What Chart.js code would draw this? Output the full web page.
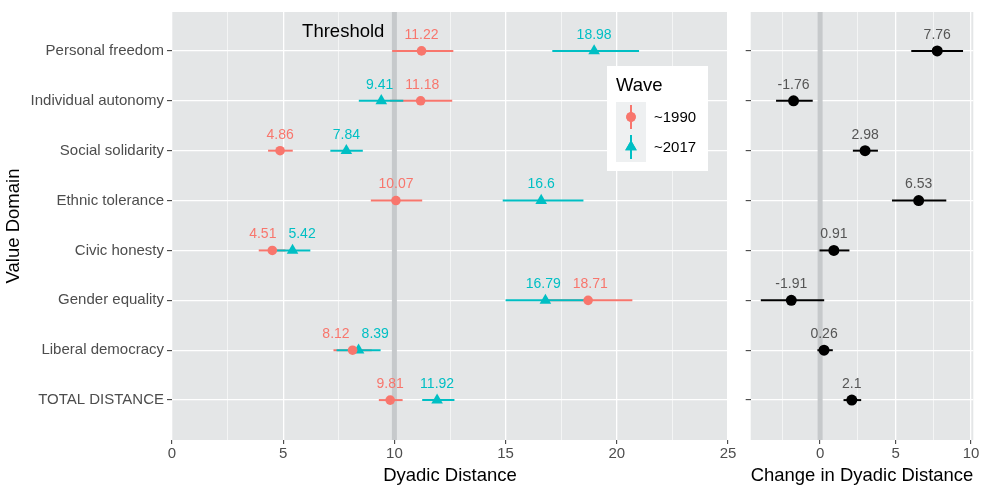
<!DOCTYPE html>
<html>
<head>
<meta charset="utf-8">
<script src="https://cdn.jsdelivr.net/npm/chart.js@4.4.1/dist/chart.umd.min.js"></script>
<style>
    html, body { margin: 0; padding: 0; background: #fff; }
    #wrap { position: relative; width: 983px; height: 485px; overflow: hidden; }
    #wrap canvas { position: absolute; top: 0; }
    #leftChart { left: 0; }
    #rightChart { left: 730px; }
</style>
</head>
<body>
<div id="wrap">
    <canvas id="leftChart" width="745" height="485"></canvas>
    <canvas id="rightChart" width="253" height="485"></canvas>
</div>
<script>
const CATEGORIES = ['Personal freedom', 'Individual autonomy', 'Social solidarity', 'Ethnic tolerance',
    'Civic honesty', 'Gender equality', 'Liberal democracy', 'TOTAL DISTANCE'];

const WAVE_1990    = [11.22, 11.18, 4.86, 10.07, 4.51, 18.71, 8.12, 9.81];
const WAVE_1990_LO = [9.9, 9.8, 4.32, 8.94, 3.9, 16.7, 7.26, 9.3];
const WAVE_1990_HI = [12.65, 12.6, 5.43, 11.25, 5.1, 20.7, 8.98, 10.37];

const WAVE_2017    = [18.98, 9.41, 7.84, 16.6, 5.42, 16.79, 8.39, 11.92];
const WAVE_2017_LO = [17.1, 8.4, 7.12, 14.87, 4.62, 15.0, 7.4, 11.25];
const WAVE_2017_HI = [21.0, 10.4, 8.58, 18.5, 6.22, 18.58, 9.38, 12.7];

const CHANGE    = [7.76, -1.76, 2.98, 6.53, 0.91, -1.91, 0.26, 2.1];
const CHANGE_LO = [6.04, -2.92, 2.17, 4.76, -0.04, -3.93, -0.18, 1.55];
const CHANGE_HI = [9.47, -0.49, 3.83, 8.36, 1.94, 0.27, 0.84, 2.72];

const LEFT_TICKS = [0, 2.5, 5, 7.5, 10, 12.5, 15, 17.5, 20, 22.5, 25];
const RIGHT_TICKS = [-2.5, 0, 2.5, 5, 7.5, 10];
const THRESHOLD_LEFT = 10;
const THRESHOLD_RIGHT = 0;

const RED = '#F8766D';
const TEAL = '#00BFC4';
const PANEL_BG = '#e4e6e7';
const FONT = "'Liberation Sans', Arial, sans-serif";

Chart.defaults.font.family = FONT;

const fmt = (v) => String(v);
const isMajor = (v) => Math.abs(v % 5) < 1e-9;

function xAxis(min, max, ticks, title) {
    return {
        type: 'linear',
        min, max,
        afterBuildTicks: (ax) => { ax.ticks = ticks.map(v => ({ value: v })); },
        afterFit: (ax) => { ax.height = 45; },
        border: { display: false },
        grid: {
            color: '#ffffff',
            lineWidth: (c) => isMajor(c.tick.value) ? 1.3 : 0.6,
            tickColor: (c) => isMajor(c.tick.value) ? '#333333' : 'rgba(0,0,0,0)',
            tickLength: 4,
            tickWidth: 1
        },
        ticks: {
            padding: 1,
            maxRotation: 0,
            color: '#4d4d4d',
            font: { size: 15 },
            callback: (v) => isMajor(v) ? fmt(v) : ''
        },
        title: {
            display: true,
            text: title,
            color: '#000',
            font: { size: 18.5, lineHeight: 1 },
            padding: { top: 0, bottom: 0 }
        }
    };
}

function yAxis(width, showLabels) {
    return {
        type: 'linear',
        min: -0.78,
        max: 7.8,
        reverse: true,
        afterBuildTicks: (ax) => { ax.ticks = CATEGORIES.map((c, i) => ({ value: i })); },
        afterFit: (ax) => { ax.width = width; },
        border: { display: false },
        grid: {
            color: '#ffffff',
            lineWidth: 1.3,
            tickColor: '#333333',
            tickLength: 5,
            tickWidth: 1
        },
        ticks: {
            padding: 3,
            color: '#4d4d4d',
            font: { size: 15 },
            callback: (v) => showLabels ? CATEGORIES[v] : ''
        },
        title: showLabels ? {
            display: true,
            text: 'Value Domain',
            color: '#000',
            font: { size: 18.5, lineHeight: 1 },
            padding: { top: 4.5, bottom: 0 }
        } : { display: false }
    };
}

// pushes two labels apart when they would overlap, like a simple repel
function labelCenters(ctx, xa, xb, ta, tb) {
    const wa = ctx.measureText(ta).width, wb = ctx.measureText(tb).width;
    const need = wa / 2 + wb / 2 + 12;
    if (Math.abs(xb - xa) >= need) return [xa, xb];
    const mid = (xa + xb) / 2;
    const dir = xa <= xb ? 1 : -1;
    return [mid - dir * need / 2, mid + dir * need / 2];
}

function panelPlugin(cfg) {
    return {
        id: 'panel',
        beforeDraw(chart) {
            const { ctx, chartArea: a } = chart;
            ctx.save();
            ctx.fillStyle = PANEL_BG;
            ctx.fillRect(a.left, a.top, a.right - a.left, a.bottom - a.top);
            ctx.restore();
        },
        beforeDatasetsDraw(chart) {
            const { ctx, chartArea: a } = chart;
            const xs = chart.scales.x, ys = chart.scales.y;
            ctx.save();
            // threshold line
            const tx = xs.getPixelForValue(cfg.threshold);
            ctx.strokeStyle = '#c6c9cb';
            ctx.lineWidth = 5;
            ctx.beginPath();
            ctx.moveTo(tx, a.top);
            ctx.lineTo(tx, a.bottom);
            ctx.stroke();
            // error bars
            ctx.lineWidth = 2;
            cfg.bars.forEach(b => {
                ctx.strokeStyle = b.color;
                b.lo.forEach((lo, i) => {
                    const y = ys.getPixelForValue(i);
                    ctx.beginPath();
                    ctx.moveTo(xs.getPixelForValue(lo), y);
                    ctx.lineTo(xs.getPixelForValue(b.hi[i]), y);
                    ctx.stroke();
                });
            });
            ctx.restore();
        },
        afterDatasetsDraw(chart) {
            const { ctx } = chart;
            const xs = chart.scales.x, ys = chart.scales.y;
            ctx.save();
            ctx.font = '14px ' + FONT;
            ctx.textBaseline = 'middle';
            ctx.textAlign = 'center';
            const [la, lb] = cfg.labels;
            CATEGORIES.forEach((c, i) => {
                const y = ys.getPixelForValue(i) - 16;
                const ta = fmt(la.values[i]);
                const xa = xs.getPixelForValue(la.values[i]);
                if (!lb) {
                    ctx.fillStyle = la.color;
                    ctx.fillText(ta, xa, y);
                    return;
                }
                const tb = fmt(lb.values[i]);
                const xb = xs.getPixelForValue(lb.values[i]);
                const [ca, cb] = labelCenters(ctx, xa, xb, ta, tb);
                ctx.fillStyle = la.color;
                ctx.fillText(ta, ca, y);
                ctx.fillStyle = lb.color;
                ctx.fillText(tb, cb, y);
            });
            if (cfg.afterDraw) cfg.afterDraw(chart);
            ctx.restore();
        }
    };
}

function drawLegend(chart) {
    const { ctx } = chart;
    const xs = chart.scales.x, ys = chart.scales.y;
    // threshold label
    ctx.fillStyle = '#000';
    ctx.font = '18.5px ' + FONT;
    ctx.textAlign = 'center';
    ctx.textBaseline = 'middle';
    ctx.fillText('Threshold', xs.getPixelForValue(7.7), ys.getPixelForValue(-0.39));

    // legend box
    ctx.fillStyle = '#ffffff';
    ctx.fillRect(607, 66, 101, 105);
    ctx.fillStyle = '#000';
    ctx.font = '18.5px ' + FONT;
    ctx.textAlign = 'left';
    ctx.fillText('Wave', 616, 86);
    const keys = [
        { label: '~1990', color: RED, style: 'circle', r: 4.8 },
        { label: '~2017', color: TEAL, style: 'triangle', r: 6.7 }
    ];
    keys.forEach((k, i) => {
        const top = 102 + i * 30;
        ctx.fillStyle = '#eef0f1';
        ctx.fillRect(616, top, 30, 30);
        const cx = 631, cy = top + 15;
        ctx.strokeStyle = k.color;
        ctx.lineWidth = 2;
        ctx.beginPath();
        ctx.moveTo(cx, top + 3);
        ctx.lineTo(cx, top + 27);
        ctx.stroke();
        ctx.fillStyle = k.color;
        Chart.helpers.drawPoint(ctx, { pointStyle: k.style, radius: k.r, borderWidth: 0, rotation: 0 }, cx, cy);
        ctx.fill();
        ctx.fillStyle = '#000';
        ctx.font = '15px ' + FONT;
        ctx.fillText(k.label, 654, cy + 1);
    });
}

const pts = (arr) => arr.map((v, i) => ({ x: v, y: i }));

new Chart(document.getElementById('leftChart'), {
    type: 'scatter',
    data: {
        datasets: [
            { label: '~1990', data: pts(WAVE_1990), pointStyle: 'circle', pointRadius: 4.8,
              backgroundColor: RED, borderColor: RED, borderWidth: 0 },
            { label: '~2017', data: pts(WAVE_2017), pointStyle: 'triangle', pointRadius: 6.7,
              backgroundColor: TEAL, borderColor: TEAL, borderWidth: 0 }
        ]
    },
    options: {
        responsive: false,
        animation: false,
        layout: { padding: { top: 11, right: 17, left: 0, bottom: 0 } },
        plugins: { legend: { display: false }, tooltip: { enabled: false } },
        scales: {
            x: xAxis(0, 25, LEFT_TICKS, 'Dyadic Distance'),
            y: yAxis(172, true)
        }
    },
    plugins: [panelPlugin({
        threshold: THRESHOLD_LEFT,
        bars: [
            { lo: WAVE_1990_LO, hi: WAVE_1990_HI, color: RED },
            { lo: WAVE_2017_LO, hi: WAVE_2017_HI, color: TEAL }
        ],
        labels: [
            { values: WAVE_1990, color: RED },
            { values: WAVE_2017, color: TEAL }
        ],
        afterDraw: drawLegend
    })]
});

new Chart(document.getElementById('rightChart'), {
    type: 'scatter',
    data: {
        datasets: [
            { label: 'Change', data: pts(CHANGE), pointStyle: 'circle', pointRadius: 5.5,
              backgroundColor: '#000', borderColor: '#000', borderWidth: 0 }
        ]
    },
    options: {
        responsive: false,
        animation: false,
        layout: { padding: { top: 11, right: 9.7, left: 0, bottom: 0 } },
        plugins: { legend: { display: false }, tooltip: { enabled: false } },
        scales: {
            x: xAxis(-4.6, 10.15, RIGHT_TICKS, 'Change in Dyadic Distance'),
            y: yAxis(20.7, false)
        }
    },
    plugins: [panelPlugin({
        threshold: THRESHOLD_RIGHT,
        bars: [{ lo: CHANGE_LO, hi: CHANGE_HI, color: '#000' }],
        labels: [{ values: CHANGE, color: '#555555' }]
    })]
});
</script>
</body>
</html>
